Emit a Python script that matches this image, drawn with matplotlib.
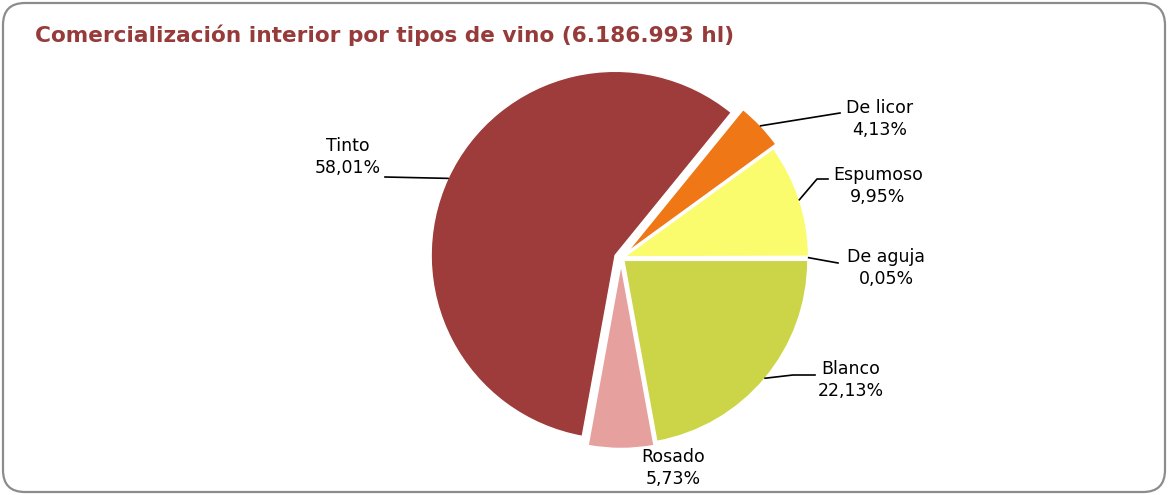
import math
import matplotlib
matplotlib.use("Agg")
import matplotlib.pyplot as plt
from matplotlib.patches import FancyBboxPatch

# data, counterclockwise from 3 o'clock
tipos = ["De aguja", "Espumoso", "De licor", "Tinto", "Rosado", "Blanco"]
porcentajes = [0.05, 9.95, 4.13, 58.01, 5.73, 22.13]
etiquetas = ["0,05%", "9,95%", "4,13%", "58,01%", "5,73%", "22,13%"]
colores = ["#c9aaa8", "#fbfb6e", "#ef7716", "#9e3b3b", "#e6a09e", "#ccd548"]
separacion = [0.02, 0.02, 0.045, 0.035, 0.035, 0.02]

titulo = "Comercialización interior por tipos de vino (6.186.993 hl)"

W, H = 1168, 495
R = 184
CX, CY = 621, H - 258

fig = plt.figure(figsize=(W / 100, H / 100), dpi=100)
ax = fig.add_axes([0, 0, 1, 1])
ax.set_xlim(0, W)
ax.set_ylim(0, H)
ax.axis("off")

# rounded frame
frame = FancyBboxPatch((3, 3), W - 6, H - 6, boxstyle="round,pad=0,rounding_size=22",
                       fc="white", ec="#8c8c8c", lw=1.6, zorder=0)
ax.add_patch(frame)

wedges, _ = ax.pie(porcentajes, colors=colores, startangle=0, counterclock=True,
                   radius=R, center=(CX, CY), explode=[e * R for e in separacion],
                   wedgeprops=dict(edgecolor="white", linewidth=1.0))
ax.set_xlim(0, W)
ax.set_ylim(0, H)
ax.set_aspect("equal")

# label text centre (x, y from top) and leader line bend points (from top)
pos_texto = {
    "De aguja": (886, 268),
    "Espumoso": (878, 186),
    "De licor": (880, 119),
    "Tinto": (348, 157),
    "Rosado": (673, 468),
    "Blanco": (851, 380),
}
codos = {
    "De aguja": [(838, 263)],
    "Espumoso": [(817, 179), (828, 179)],
    "De licor": [(840, 113)],
    "Tinto": [(385, 177)],
    "Rosado": [],
    "Blanco": [(793, 375), (815, 375)],
}

fuente = "DejaVu Sans"
for w, tipo, lab in zip(wedges, tipos, etiquetas):
    tx, ty = pos_texto[tipo]
    ax.text(tx, H - ty, tipo + "\n" + lab, ha="center", va="center",
            fontsize=12.5, family=fuente, linespacing=1.25, color="black")
    if codos[tipo]:
        ang = math.radians((w.theta1 + w.theta2) / 2)
        x0 = w.center[0] + w.r * math.cos(ang)
        y0 = w.center[1] + w.r * math.sin(ang)
        xs = [x0] + [p[0] for p in codos[tipo]]
        ys = [y0] + [H - p[1] for p in codos[tipo]]
        ax.plot(xs, ys, color="black", lw=1.2)

ax.text(35, H - 35, titulo, ha="left", va="center", fontsize=15.6,
        fontweight="bold", family=fuente, color="#973a3a")

fig.savefig("out.png", dpi=100)
